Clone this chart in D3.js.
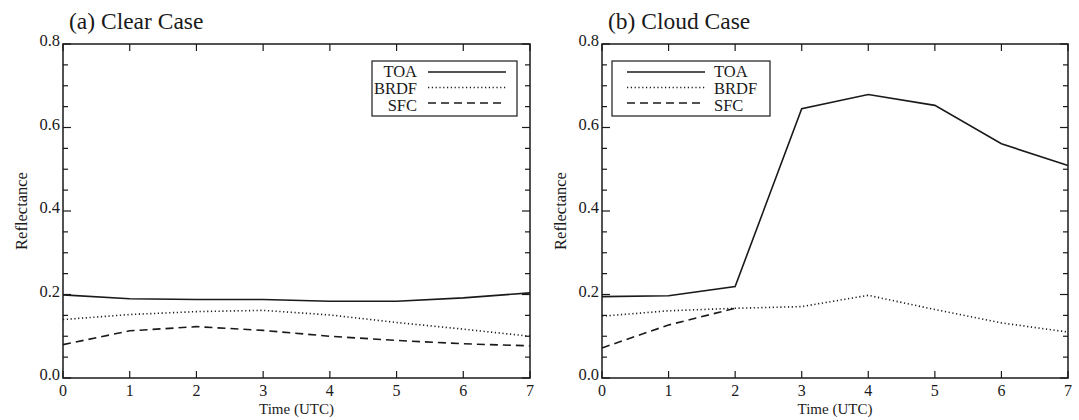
<!DOCTYPE html>
<html><head><meta charset="utf-8">
<script src="https://cdn.jsdelivr.net/npm/d3@7"></script>
<style>body{margin:0;background:#fff}svg{display:block}</style>
</head><body>
<svg id="chart" width="1079" height="420"></svg>
<script>
const hours = [0, 1, 2, 3, 4, 5, 6, 7];
const clearTOA  = [0.199, 0.190, 0.188, 0.188, 0.184, 0.184, 0.192, 0.204];
const clearBRDF = [0.140, 0.152, 0.159, 0.162, 0.151, 0.133, 0.117, 0.100];
const clearSFC  = [0.080, 0.113, 0.123, 0.114, 0.100, 0.090, 0.082, 0.077];
const cloudTOA  = [0.195, 0.197, 0.219, 0.645, 0.679, 0.653, 0.561, 0.509];
const cloudBRDF = [0.148, 0.161, 0.167, 0.171, 0.198, 0.164, 0.132, 0.110];
const cloudSFC  = [0.072, 0.127, 0.167];
const seriesNames = ["TOA", "BRDF", "SFC"];
const panelTitles = ["(a) Clear Case", "(b) Cloud Case"];
const yMajorTicks = [0.0, 0.2, 0.4, 0.6, 0.8];

const dashes = {TOA: null, BRDF: "1.2,2.6", SFC: "8,5"};
const ink = "#1a1a1a";
const font = "Liberation Serif, Times New Roman, serif";

const svg = d3.select("#chart");
const panels = [
  {x0: 63, x1: 530, title: panelTitles[0], data: [clearTOA, clearBRDF, clearSFC], legend: "right"},
  {x0: 602, x1: 1068, title: panelTitles[1], data: [cloudTOA, cloudBRDF, cloudSFC], legend: "left"}
];
const yTop = 44, yBot = 378;

panels.forEach(p => {
  const g = svg.append("g");
  const x = d3.scaleLinear().domain([0, 7]).range([p.x0, p.x1]);
  const y = d3.scaleLinear().domain([0, 0.8]).range([yBot, yTop]);

  const minor = d3.range(0, 0.8001, 0.05).map(v => +v.toFixed(2));
  const isMajor = v => yMajorTicks.some(m => Math.abs(m - v) < 1e-6);
  minor.forEach(v => {
    const len = isMajor(v) ? 8 : 5;
    g.append("line").attr("x1", p.x0).attr("x2", p.x0 + len).attr("y1", y(v)).attr("y2", y(v))
      .attr("stroke", ink).attr("stroke-width", 1.2);
    g.append("line").attr("x1", p.x1).attr("x2", p.x1 - len).attr("y1", y(v)).attr("y2", y(v))
      .attr("stroke", ink).attr("stroke-width", 1.2);
  });
  hours.forEach(h => {
    g.append("line").attr("x1", x(h)).attr("x2", x(h)).attr("y1", yBot).attr("y2", yBot - 7)
      .attr("stroke", ink).attr("stroke-width", 1.2);
    g.append("line").attr("x1", x(h)).attr("x2", x(h)).attr("y1", yTop).attr("y2", yTop + 7)
      .attr("stroke", ink).attr("stroke-width", 1.2);
  });

  yMajorTicks.forEach(v => {
    g.append("text").attr("x", p.x0 - 3).attr("y", y(v) + 2).attr("text-anchor", "end")
      .attr("font-family", font).attr("font-size", 16.5).attr("fill", ink).text(d3.format(".1f")(v));
  });
  hours.forEach(h => {
    g.append("text").attr("x", x(h)).attr("y", yBot + 18).attr("text-anchor", "middle")
      .attr("font-family", font).attr("font-size", 16).attr("fill", ink).text(h);
  });
  g.append("text").attr("x", (p.x0 + p.x1) / 2).attr("y", 414).attr("text-anchor", "middle")
    .attr("font-family", font).attr("font-size", 15).attr("fill", ink).text("Time (UTC)");
  g.append("text").attr("transform", `translate(${p.x0 - 36},${(yTop + yBot) / 2}) rotate(-90)`)
    .attr("text-anchor", "middle").attr("font-family", font).attr("font-size", 16.5).attr("fill", ink)
    .text("Reflectance");
  g.append("text").attr("x", p.x0 + 6).attr("y", 29).attr("font-family", font)
    .attr("font-size", 23.5).attr("fill", ink).text(p.title);

  const line = d3.line().x((d, i) => x(hours[i])).y(d => y(d));
  p.data.forEach((vals, k) => {
    g.append("path").datum(vals).attr("d", line).attr("fill", "none").attr("stroke", ink)
      .attr("stroke-width", 1.6).attr("stroke-dasharray", dashes[seriesNames[k]]);
  });

  g.append("rect").attr("x", p.x0).attr("y", yTop).attr("width", p.x1 - p.x0).attr("height", yBot - yTop)
    .attr("fill", "none").attr("stroke", ink).attr("stroke-width", 1.5);

  const lg = g.append("g");
  let bx0, bx1, lx0, lx1, tx, anchor;
  if (p.legend === "right") {
    bx0 = 372; bx1 = 517; tx = 417; anchor = "end"; lx0 = 428; lx1 = 506;
  } else {
    bx0 = 612; bx1 = 770; tx = 714; anchor = "start"; lx0 = 627; lx1 = 705;
  }
  lg.append("rect").attr("x", bx0).attr("y", 61).attr("width", bx1 - bx0).attr("height", 55)
    .attr("fill", "#fff").attr("stroke", ink).attr("stroke-width", 1.2);
  seriesNames.forEach((s, k) => {
    const ly = 72 + k * 15.5;
    lg.append("line").attr("x1", lx0).attr("x2", lx1).attr("y1", ly).attr("y2", ly)
      .attr("stroke", ink).attr("stroke-width", 1.5).attr("stroke-dasharray", dashes[s]);
    lg.append("text").attr("x", tx).attr("y", ly + 5 + k * 1.5).attr("text-anchor", anchor)
      .attr("font-family", font).attr("font-size", 16.5).attr("fill", ink).text(s);
  });
});
</script>
</body></html>
